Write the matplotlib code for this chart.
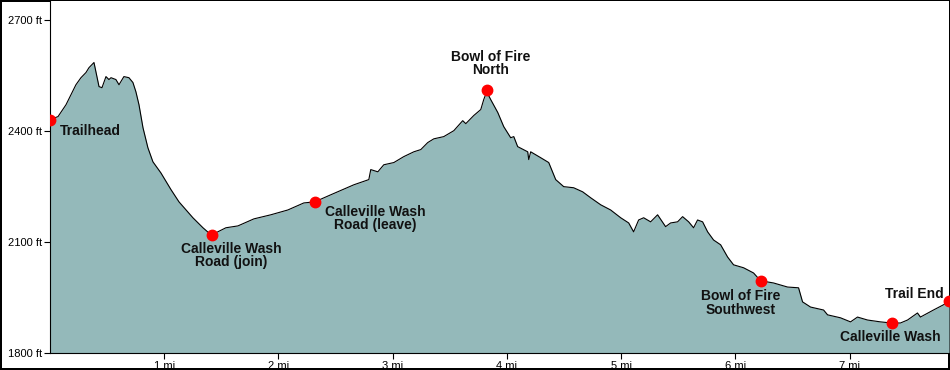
import matplotlib
matplotlib.use("Agg")
import matplotlib.pyplot as plt

# elevation profile (miles, feet)
dist_mi = [0.0, 0.07, 0.14, 0.227, 0.271, 0.315, 0.341, 0.385, 0.429, 0.455,
           0.49, 0.516, 0.534, 0.577, 0.604, 0.647, 0.691, 0.726, 0.752, 0.779,
           0.814, 0.857, 0.901, 0.971, 1.059, 1.129, 1.251, 1.339, 1.391, 1.417,
           1.54, 1.645, 1.785, 1.933, 2.082, 2.222, 2.318, 2.458, 2.66, 2.791,
           2.808, 2.87, 2.922, 3.01, 3.097, 3.185, 3.246, 3.307, 3.36, 3.447,
           3.535, 3.613, 3.64, 3.71, 3.771, 3.797, 3.823, 3.858, 3.92, 3.972,
           4.033, 4.06, 4.094, 4.182, 4.191, 4.208, 4.296, 4.366, 4.427, 4.497,
           4.584, 4.663, 4.733, 4.821, 4.908, 4.996, 5.066, 5.109, 5.153, 5.197,
           5.258, 5.319, 5.389, 5.433, 5.494, 5.538, 5.591, 5.634, 5.669, 5.713,
           5.757, 5.809, 5.871, 5.932, 5.984, 6.072, 6.159, 6.22, 6.334, 6.457,
           6.553, 6.588, 6.658, 6.772, 6.807, 6.92, 7.008, 7.069, 7.157, 7.27,
           7.367, 7.445, 7.507, 7.594, 7.62, 7.734, 7.821, 7.87]
elev_ft = [2430, 2438, 2470, 2524, 2543, 2557, 2570, 2584, 2519, 2516,
           2546, 2538, 2543, 2538, 2524, 2546, 2543, 2530, 2505, 2470,
           2408, 2354, 2316, 2286, 2241, 2208, 2165, 2138, 2124, 2119,
           2138, 2143, 2162, 2173, 2186, 2205, 2208, 2227, 2254, 2268,
           2295, 2289, 2308, 2314, 2330, 2343, 2349, 2368, 2378, 2384,
           2400, 2427, 2419, 2441, 2457, 2484, 2505, 2484, 2449, 2411,
           2381, 2384, 2357, 2343, 2322, 2343, 2327, 2314, 2268, 2249,
           2246, 2235, 2219, 2200, 2186, 2165, 2151, 2127, 2159, 2165,
           2154, 2173, 2141, 2151, 2154, 2168, 2154, 2138, 2159, 2154,
           2127, 2105, 2092, 2059, 2038, 2030, 2016, 1995, 1989, 1978,
           1976, 1938, 1924, 1916, 1903, 1895, 1884, 1897, 1889, 1884,
           1881, 1881, 1889, 1908, 1897, 1916, 1930, 1940]

# waypoints
wp_names = ["Trailhead", "Calleville Wash\nRoad (join)", "Calleville Wash\nRoad (leave)",
            "Bowl of Fire\nNorth", "Bowl of Fire\nSouthwest", "Calleville Wash", "Trail End"]
wp_mi = [0.0, 1.417, 2.318, 3.823, 6.22, 7.367, 7.87]
wp_ft = [2430, 2119, 2208, 2510, 1995, 1881, 1940]

y_ticks = [1800, 2100, 2400, 2700]
x_ticks = [1, 2, 3, 4, 5, 6, 7]

# label placement (offset in points, ha, va)
label_pos = [((7, -8), "left", "center"),
             ((14, -5), "center", "top"),
             ((7, -2), "left", "top"),
             ((3, 9), "center", "bottom"),
             ((-14, -6), "center", "top"),
             ((-1, -5), "center", "top"),
             ((-4, 5), "right", "center")]

plt.rcParams["font.family"] = ["Liberation Sans", "DejaVu Sans"]

fig = plt.figure(figsize=(9.5, 3.7), dpi=100)
fig.patch.set_edgecolor("black")
fig.patch.set_linewidth(1.5)
ax = fig.add_axes([50 / 950, 17 / 370, 899 / 950, 352 / 370])

ax.fill_between(dist_mi, elev_ft, 1800, color="#94b9ba", lw=0)
ax.plot(dist_mi, elev_ft, color="black", lw=0.8)
ax.plot(wp_mi, wp_ft, "o", color="#ff0000", ms=7.5, zorder=5)

for name, x, y, (off, ha, va) in zip(wp_names, wp_mi, wp_ft, label_pos):
    ax.annotate(name, (x, y), xytext=off, textcoords="offset points",
                ha=ha, va=va, multialignment="center", fontsize=10,
                fontweight="bold", color="#111111", linespacing=0.95, zorder=6)

ax.set_xlim(0, 7.87)
ax.set_ylim(1800, 2750)
ax.set_yticks(y_ticks)
ax.set_yticklabels([f"{v} ft" for v in y_ticks])
ax.set_xticks(x_ticks)
ax.set_xticklabels([f"{v} mi" for v in x_ticks])
ax.tick_params(axis="both", labelsize=8, length=4, width=0.8, pad=2)
ax.spines["top"].set_visible(False)
ax.spines["right"].set_visible(False)

fig.savefig("out.png", dpi=100, edgecolor=fig.get_edgecolor())
